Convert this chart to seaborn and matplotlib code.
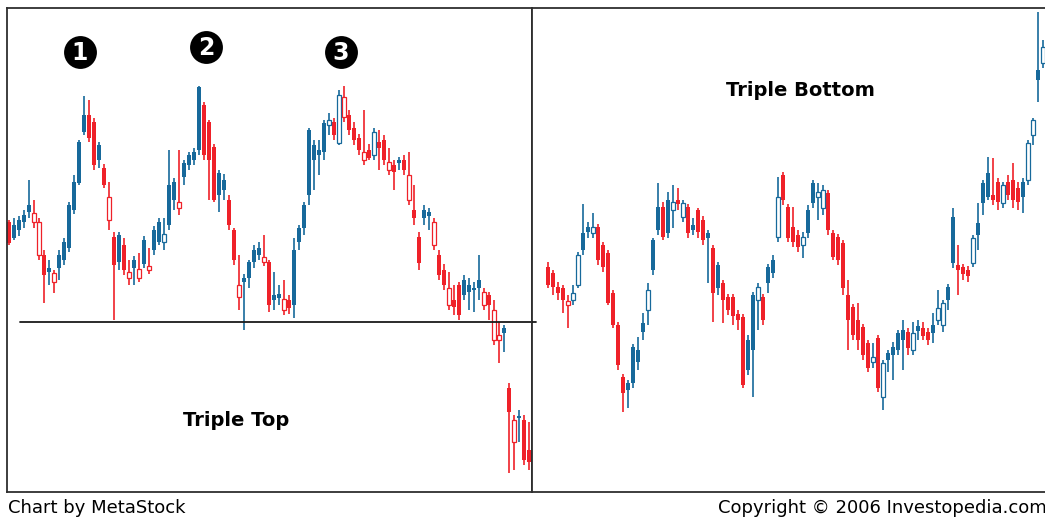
import numpy as np
import matplotlib
matplotlib.use("Agg")
import matplotlib.pyplot as plt
import seaborn as sns

# ---------------- data (price units) ----------------
top_open = [278, 275, 280, 285, 295, 278, 245, 245, 232, 218, 245, 258, 295, 318, 358, 385, 385, 378, 355, 332,
            280, 263, 265, 255, 222, 240, 222, 260, 230, 270, 278, 258, 315, 318, 292, 337, 345, 348, 413, 395,
            378, 353, 327, 320, 300, 270, 203, 222, 238, 250, 252, 238, 238, 205, 206, 190, 200, 250, 272, 295,
            370, 355, 350, 377, 375, 378, 357, 383, 385, 372, 362, 340, 350, 345, 358, 360, 330, 335, 340, 340,
            300, 290, 263, 290, 288, 255, 245, 230, 195, 200, 215, 220, 215, 212, 220, 195, 205, 160, 160, 172,
            112, 58, 84, 80, 50]
top_high = [280, 282, 284, 290, 320, 300, 282, 250, 240, 230, 250, 262, 298, 325, 360, 404, 400, 382, 358, 336,
            318, 268, 268, 262, 240, 244, 247, 264, 252, 274, 282, 282, 350, 322, 350, 340, 348, 352, 414, 398,
            380, 356, 330, 326, 305, 272, 245, 226, 240, 255, 258, 265, 240, 228, 215, 220, 205, 262, 275, 298,
            372, 360, 360, 380, 387, 382, 410, 414, 390, 378, 366, 390, 356, 372, 370, 365, 352, 340, 343, 345,
            348, 315, 268, 295, 292, 282, 250, 236, 228, 215, 218, 225, 222, 218, 245, 212, 208, 200, 178, 175,
            117, 85, 90, 85, 78]
top_low = [255, 260, 264, 272, 282, 272, 240, 197, 215, 207, 220, 235, 248, 286, 315, 365, 358, 330, 332, 312,
           270, 180, 230, 225, 215, 215, 218, 232, 226, 245, 255, 250, 270, 290, 285, 315, 330, 335, 345, 340,
           300, 298, 288, 300, 270, 235, 190, 170, 212, 232, 240, 234, 188, 190, 195, 185, 186, 182, 250, 265,
           295, 310, 325, 340, 365, 360, 355, 378, 365, 355, 345, 335, 340, 340, 330, 335, 325, 310, 330, 325,
           295, 275, 230, 275, 270, 250, 220, 210, 190, 185, 180, 200, 190, 188, 200, 190, 180, 155, 137, 148,
           27, 30, 58, 35, 30]
top_close = [257, 262, 270, 278, 288, 287, 278, 225, 228, 227, 232, 240, 252, 290, 317, 368, 362, 335, 340, 315,
             303, 235, 238, 230, 228, 232, 231, 236, 234, 250, 258, 266, 275, 300, 298, 323, 335, 340, 350, 345,
             340, 300, 305, 310, 275, 240, 215, 218, 222, 238, 245, 243, 195, 200, 202, 201, 192, 195, 258, 272,
             305, 340, 345, 348, 380, 365, 405, 403, 370, 360, 350, 348, 342, 368, 352, 340, 338, 328, 337, 330,
             325, 282, 237, 282, 284, 278, 225, 215, 212, 193, 185, 205, 208, 210, 212, 208, 195, 190, 165, 167,
             88, 80, 82, 40, 38]

bot_open = [233, 227, 213, 212, 195, 200, 215, 267, 273, 267, 273, 255, 247, 207, 175, 123, 117, 153, 150, 177,
            190, 260, 293, 293, 300, 290, 300, 283, 293, 275, 290, 280, 267, 252, 235, 217, 203, 203, 186, 183,
            160, 205, 200, 203, 233, 240, 263, 325, 293, 273, 265, 255, 290, 317, 303, 292, 307, 267, 263, 257,
            205, 193, 180, 173, 157, 138, 162, 103, 147, 153, 167, 170, 168, 150, 174, 172, 168, 175, 180, 175,
            213, 283, 235, 233, 230, 237, 277, 317, 327, 305, 318, 297, 318, 320, 312, 318, 320, 365, 430, 437]
bot_high = [238, 230, 218, 215, 205, 215, 248, 296, 278, 287, 276, 258, 250, 210, 178, 126, 120, 156, 163, 187,
            217, 262, 317, 298, 308, 315, 312, 300, 296, 282, 292, 284, 270, 255, 238, 220, 206, 206, 190, 186,
            165, 208, 217, 206, 236, 245, 323, 328, 296, 293, 270, 268, 295, 320, 317, 315, 310, 270, 266, 260,
            220, 196, 197, 176, 160, 157, 165, 140, 150, 158, 170, 180, 172, 178, 180, 178, 172, 187, 210, 200,
            216, 292, 255, 236, 234, 265, 297, 320, 343, 342, 322, 318, 325, 337, 318, 322, 360, 382, 488, 460]
bot_low = [212, 205, 200, 187, 172, 195, 212, 245, 262, 262, 235, 228, 195, 172, 130, 88, 92, 112, 130, 160,
           175, 225, 265, 260, 262, 272, 290, 278, 262, 265, 262, 255, 217, 178, 205, 177, 185, 175, 170, 112,
           125, 103, 170, 175, 207, 222, 258, 295, 258, 253, 248, 242, 262, 292, 280, 285, 265, 240, 235, 205,
           150, 160, 150, 140, 128, 132, 108, 90, 128, 120, 145, 130, 145, 145, 160, 160, 155, 157, 175, 168,
           190, 232, 205, 220, 218, 233, 250, 285, 300, 295, 290, 292, 300, 292, 290, 287, 315, 355, 398, 432]
bot_close = [215, 213, 207, 200, 199, 207, 245, 250, 268, 273, 240, 233, 197, 175, 135, 107, 110, 117, 138, 168,
             210, 230, 270, 263, 267, 298, 296, 297, 267, 270, 268, 260, 262, 207, 212, 200, 190, 184, 180, 115,
             130, 150, 213, 180, 217, 227, 303, 300, 262, 258, 253, 263, 267, 297, 308, 310, 270, 243, 240, 212,
             180, 165, 160, 145, 132, 143, 112, 137, 140, 145, 150, 160, 152, 167, 169, 164, 160, 167, 192, 197,
             200, 237, 230, 226, 224, 262, 265, 297, 303, 300, 298, 315, 305, 300, 298, 303, 357, 380, 420, 453]

support_level = 178
labels = ["Triple Top", "Triple Bottom"]
footer_left = "Chart by MetaStock"
footer_right = "Copyright \u00a9 2006 Investopedia.com"

RED = "#ef2129"
BLUE = "#17699b"
FRAME = "#2e2e2e"

sns.set_style("white")
plt.rcParams["font.family"] = ["DejaVu Sans"]

W, H = 1045, 518
fig = plt.figure(figsize=(W / 100, H / 100), dpi=100)


def fx(px):
    return px / W


def fy(py):
    return 1 - py / H


def candles(ax, o, h, l, c):
    o, h, l, c = map(lambda a: np.asarray(a, float), (o, h, l, c))
    x = np.arange(len(o))
    prev = np.r_[o[0], c[:-1]]
    up = c >= prev
    col = np.where(up, BLUE, RED)
    hollow = c > o
    ax.vlines(x, l, h, colors=col, linewidth=1.2, zorder=1)
    bottom = np.minimum(o, c)
    height = np.maximum(np.abs(c - o), 2.0)
    f = ~hollow
    ax.bar(x[f], height[f], bottom=bottom[f], width=0.8, color=col[f], linewidth=0, zorder=2)
    ax.bar(x[hollow], height[hollow], bottom=bottom[hollow], width=0.62,
           facecolor="white", edgecolor=col[hollow], linewidth=0.9, zorder=2)


y0, y1 = 8, 492
axL = fig.add_axes([fx(7), fy(492), fx(532 - 7), (492 - 8) / H])
axR = fig.add_axes([fx(532), fy(492), fx(1062 - 532), (492 - 8) / H])

candles(axL, top_open, top_high, top_low, top_close)
candles(axR, bot_open, bot_high, bot_low, bot_close)

axL.set_xlim(-0.4, -0.4 + 525 / 5)
axR.set_xlim((532 - 548) / 5, (1062 - 548) / 5)
for ax in (axL, axR):
    ax.set_ylim(500 - y1, 500 - y0)
    ax.set_xticks([])
    ax.set_yticks([])
    for s in ax.spines.values():
        s.set_color(FRAME)
        s.set_linewidth(1.3)
        s.set_visible(True)

axL.axhline(support_level, xmin=13 / 525, xmax=1, color="#1a1a1a", linewidth=1.3, zorder=3)
axR.axhline(support_level, xmin=0, xmax=4 / 530, color="#1a1a1a", linewidth=1.3, zorder=3)

fig.text(fx(236), fy(420), labels[0], ha="center", va="center", fontsize=14,
         fontweight="bold", color="black")
fig.text(fx(800), fy(91), labels[1], ha="center", va="center", fontsize=14,
         fontweight="bold", color="black")

marks = [(80, 52, "1"), (206, 47, "2"), (341, 52, "3"),
         (622, 440, "1"), (748, 436, "2"), (880, 440, "3")]
for px, py, t in marks:
    axL.scatter([fx(px)], [fy(py)], s=560, color="black", transform=fig.transFigure,
                clip_on=False, zorder=5, linewidths=0)
    fig.text(fx(px), fy(py + 1), t, ha="center", va="center", fontsize=17, fontweight="bold",
             color="white", zorder=6)

fig.text(fx(8), fy(508), footer_left, ha="left", va="center", fontsize=13, color="black")
fig.text(fx(1047), fy(508), footer_right, ha="right", va="center", fontsize=13, color="black")

fig.savefig("out.png", dpi=100, facecolor="white")
